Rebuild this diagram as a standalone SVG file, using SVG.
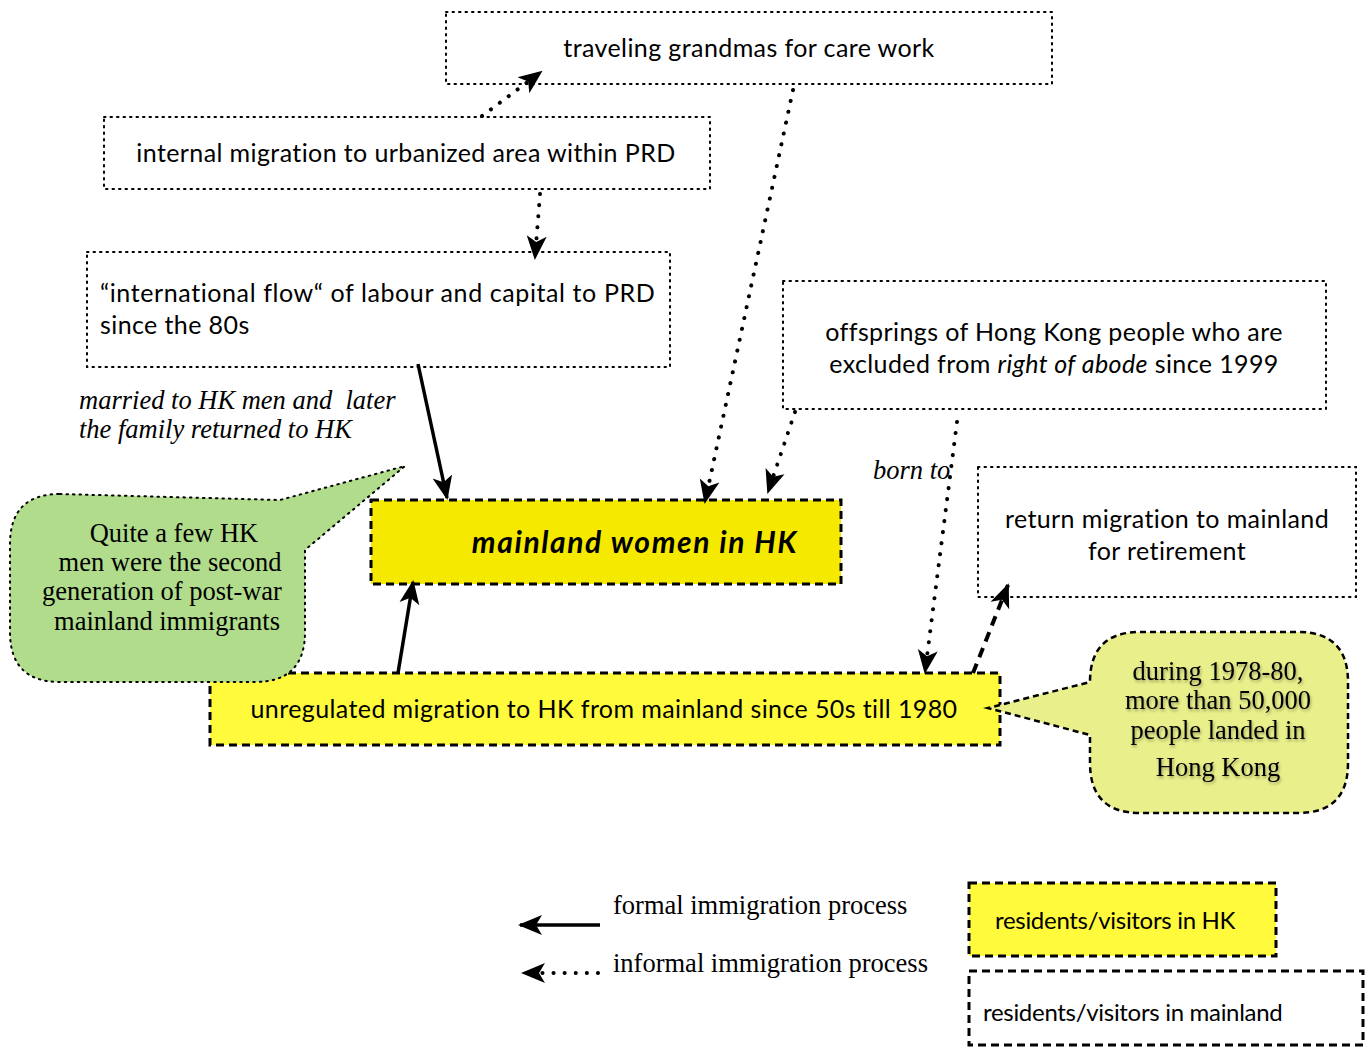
<svg xmlns="http://www.w3.org/2000/svg" width="1368" height="1047" viewBox="0 0 1368 1047">
<defs>
<style>
.sans{font-family:Lato,"Open Sans","Liberation Sans",sans-serif;font-size:25px;letter-spacing:0.4px;fill:#000}
.serif{font-family:"Liberation Serif","DejaVu Serif",serif;font-size:26.5px;fill:#000}
.leg{font-size:24px;letter-spacing:-0.3px}
.dot{fill:#fff;stroke:#000;stroke-width:2;stroke-dasharray:1.5 5;stroke-linecap:round}
.dashbox{stroke:#000;stroke-width:3;stroke-dasharray:8 5}
.cdot{fill:none;stroke:#000;stroke-width:4;stroke-dasharray:0.1 11;stroke-linecap:round}
.csolid{fill:none;stroke:#000;stroke-width:3.5}
.cdash{fill:none;stroke:#000;stroke-width:4;stroke-dasharray:10 7}
</style>
<marker id="ah2" viewBox="0 0 24 24" refX="22" refY="12" markerWidth="24" markerHeight="24" markerUnits="userSpaceOnUse" orient="auto">
<path d="M0,2 L24,12 L0,22 L6,12 z" fill="#000"/>
</marker>
<filter id="sh" x="-10%" y="-10%" width="120%" height="130%">
<feDropShadow dx="1" dy="2" stdDeviation="1.5" flood-color="#000" flood-opacity="0.35"/>
</filter>
</defs>

<g id="node-grandmas">
<rect class="dot" x="446" y="12" width="606" height="72"/>
<text class="sans" x="749" y="57" text-anchor="middle">traveling grandmas for care work</text>
</g>
<g id="node-internal">
<rect class="dot" x="104" y="117" width="606" height="72"/>
<text class="sans" x="406" y="162" text-anchor="middle">internal migration to urbanized area within PRD</text>
</g>
<g id="node-international">
<rect class="dot" x="87" y="252" width="583" height="115"/>
<text class="sans" x="100" y="302" style="letter-spacing:0.6px">“international flow“ of labour and capital to PRD</text>
<text class="sans" x="100" y="334">since the 80s</text>
</g>
<g id="node-offsprings">
<rect class="dot" x="783" y="281" width="543" height="128"/>
<text class="sans" x="1054" y="341" text-anchor="middle">offsprings of Hong Kong people who are</text>
<text class="sans" x="1054" y="373" text-anchor="middle">excluded from <tspan font-style="italic">right of abode</tspan> since 1999</text>
</g>
<g id="node-return">
<rect class="dot" x="978" y="467" width="378" height="130"/>
<text class="sans" x="1167" y="528" text-anchor="middle">return migration to mainland</text>
<text class="sans" x="1167" y="560" text-anchor="middle">for retirement</text>
</g>
<g id="node-mainland-women">
<rect class="dashbox" x="371" y="500" width="470" height="84" fill="#F5E900"/>
<text x="635" y="553" text-anchor="middle" font-family="Lato,'Open Sans','Liberation Sans',sans-serif" font-size="30" letter-spacing="1.6" font-weight="bold" font-style="italic">mainland women in HK</text>
</g>
<g id="node-unregulated">
<rect class="dashbox" x="210" y="673" width="790" height="72" fill="#FFFA3C"/>
<text class="sans" x="604" y="718" text-anchor="middle">unregulated migration to HK from mainland since 50s till 1980</text>
</g>
<g id="callout-green">
<path d="M60,494 L280,500 L405,466 L305,550 L305,632 Q305,682 255,682 L60,682 Q10,682 10,632 L10,544 Q10,494 60,494 Z" fill="#B0DC8C" stroke="#000" stroke-width="2" stroke-dasharray="1.5 5" stroke-linecap="round"/>
<text class="serif" text-anchor="middle"><tspan x="174" y="542">Quite a few HK</tspan><tspan x="170" y="571">men were the second</tspan><tspan x="162" y="600">generation of post-war</tspan><tspan x="167" y="630">mainland immigrants</tspan></text>
</g>
<g id="callout-yellow">
<path d="M1140,632 L1298,632 Q1348,632 1348,682 L1348,763 Q1348,813 1298,813 L1140,813 Q1090,813 1090,763 L1090,735 L988,708 L1090,682 Q1090,632 1140,632 Z" fill="#E9F08B" stroke="#000" stroke-width="2.5" stroke-dasharray="6 4"/>
<g filter="url(#sh)">
<text class="serif" text-anchor="middle"><tspan x="1218" y="680">during 1978-80,</tspan><tspan x="1218" y="709">more than 50,000</tspan><tspan x="1218" y="739">people landed in</tspan><tspan x="1218" y="776">Hong Kong</tspan></text>
</g>
</g>
<g id="labels">
<text class="serif" font-style="italic" x="79" y="409" xml:space="preserve">married to HK men and  later</text>
<text class="serif" font-style="italic" x="79" y="438">the family returned to HK</text>
<text class="serif" font-style="italic" x="873" y="479">born to</text>
</g>

<g id="connectors">
<path class="cdot" d="M482,116 L541,72" marker-end="url(#ah2)"/>
<path class="cdot" d="M540,194 L535,258" marker-end="url(#ah2)"/>
<path class="cdot" d="M793,90 L705,502" marker-end="url(#ah2)"/>
<path class="cdot" d="M795,412 L768,492" marker-end="url(#ah2)"/>
<path class="csolid" d="M418,364 L447,498" marker-end="url(#ah2)"/>
<path class="csolid" d="M398,673 L413,582" marker-end="url(#ah2)"/>
<path class="cdot" d="M957,422 L925,672" marker-end="url(#ah2)"/>
<path class="cdash" d="M973,673 L1008,585" marker-end="url(#ah2)"/>
</g>

<g id="legend">
<path class="csolid" d="M600,925 L520,925" marker-end="url(#ah2)"/>
<path class="cdot" d="M598,973 L523,973" marker-end="url(#ah2)"/>
<text class="serif" x="613" y="914">formal immigration process</text>
<text class="serif" x="613" y="972">informal immigration process</text>
<g id="legend-hk">
<rect class="dashbox" x="969" y="883" width="307" height="73" fill="#FFFA3C"/>
<text class="sans leg" x="995" y="929">residents/visitors in HK</text>
</g>
<g id="legend-mainland">
<rect class="dashbox" x="969" y="971" width="394" height="74" fill="#fff"/>
<text class="sans leg" x="983" y="1021">residents/visitors in mainland</text>
</g>
</g>
</svg>
